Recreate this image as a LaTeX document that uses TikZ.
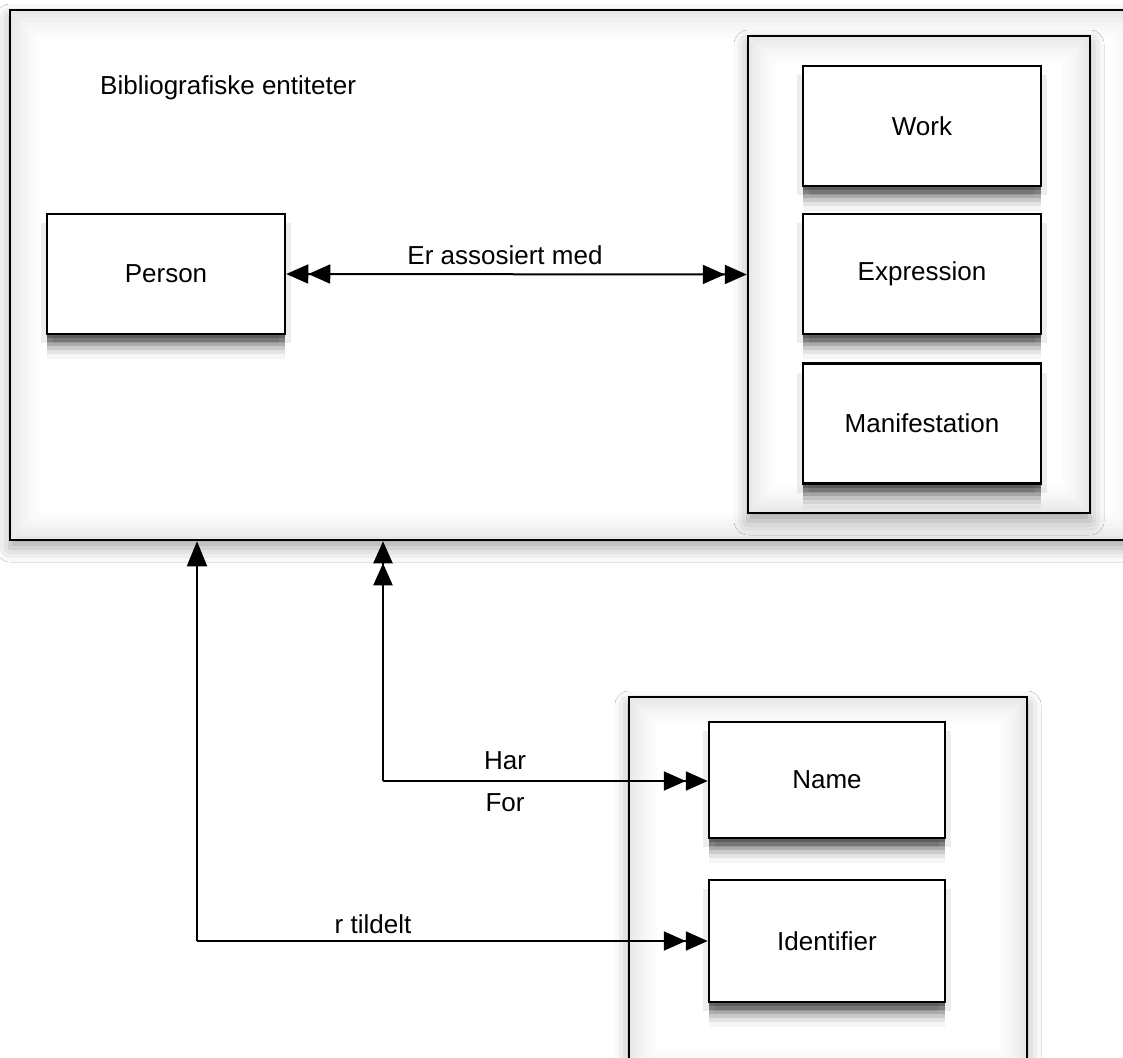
\documentclass[tikz,border=0pt]{standalone}
\usepackage{fontspec}
\setmainfont{Liberation Sans}
\usetikzlibrary{arrows.meta,shadows.blur}
\tikzset{
  innerglow/.style={path picture={
    \foreach \d/\o in {2/0.09,6/0.075,10/0.06,14/0.045,18/0.03,22/0.02,26/0.01}{
      \draw[line width=4pt,black,opacity=\o]
        ([shift={(\d pt,-\d pt)}]path picture bounding box.north west) rectangle
        ([shift={(-\d pt,\d pt)}]path picture bounding box.south east);
    }}},
  container/.style={draw=black,line width=2.5pt,fill=white,innerglow,
    blur shadow={shadow xshift=0pt,shadow yshift=-8pt,shadow blur radius=14pt,shadow opacity=35}},
  entity/.style={draw=black,line width=2.5pt,fill=white,font=\fontsize{26}{31}\selectfont,
    minimum width=238pt,minimum height=120pt,inner sep=0pt,
    preaction={draw=none,fill=black,fill opacity=0.04,transform canvas={yshift=-25pt}},
    preaction={draw=none,fill=black,fill opacity=0.07,transform canvas={yshift=-20pt}},
    preaction={draw=none,fill=black,fill opacity=0.11,transform canvas={yshift=-16pt}},
    preaction={draw=none,fill=black,fill opacity=0.15,transform canvas={yshift=-12pt}},
    preaction={draw=none,fill=black,fill opacity=0.19,transform canvas={yshift=-8pt}},
    preaction={draw=none,fill=black,fill opacity=0.22,transform canvas={yshift=-4pt}},
    preaction={draw=none,fill=black,fill opacity=0.07,transform canvas={xshift=-6pt,yshift=-9pt}},
    preaction={draw=none,fill=black,fill opacity=0.07,transform canvas={xshift=6pt,yshift=-9pt}}},
  lbl/.style={font=\fontsize{26}{31}\selectfont,inner sep=0pt},
  conn/.style={line width=2pt,black},
  tip/.tip={Triangle[length=22pt,width=19pt]},
  dbl/.style={conn,-{tip[]tip[]}},
  sgl/.style={conn,-{tip[length=25pt,width=20pt]}},
}
\begin{document}
\begin{tikzpicture}[x=1pt,y=-1pt]
\useasboundingbox (0,0) rectangle (1123,1057);
\fill[white] (0,0) rectangle (1123,1057);
\clip (0,0) rectangle (1123,1057);
% containers
\node[container,minimum width=1130pt,minimum height=530pt,inner sep=0pt] (biblio) at (575,275) {};
\node[container,minimum width=342pt,minimum height=477pt,inner sep=0pt] (frbr) at (919,274.5) {};
\node[container,minimum width=398pt,minimum height=380pt,inner sep=0pt] (ident) at (828,887) {};
% title
\node[lbl,anchor=west] (title) at (100,88) {Bibliografiske entiteter};
% entities
\node[entity] (work) at (922,126) {Work};
\node[entity] (expr) at (922,274) {Expression};
\node[entity] (manif) at (922,423.5) {Manifestation};
\node[entity] (person) at (166,274) {Person};
\node[entity,minimum width=236pt,minimum height=116pt] (name) at (827,780) {Name};
\node[entity,minimum width=236pt,minimum height=122pt] (idf) at (827,941) {Identifier};
% connectors
\draw[conn,{tip[]tip[]}-{tip[]tip[]}] (person.east) -- (frbr.west);
\node[lbl] (lassoc) at (505,255) {Er assosiert med};
\coordinate (c1) at (383,781);
\draw[dbl] (c1) -- (name.west |- c1);
\draw[dbl] (c1) -- (c1 |- biblio.south);
\node[lbl] (lhar) at (505,761) {Har};
\node[lbl] (lfor) at (505,803) {For};
\coordinate (c2) at (197,941);
\draw[dbl] (c2) -- (idf.west);
\draw[sgl] (c2) -- (c2 |- biblio.south);
\node[lbl] (ltild) at (373,924) {r tildelt};
\end{tikzpicture}
\end{document}
